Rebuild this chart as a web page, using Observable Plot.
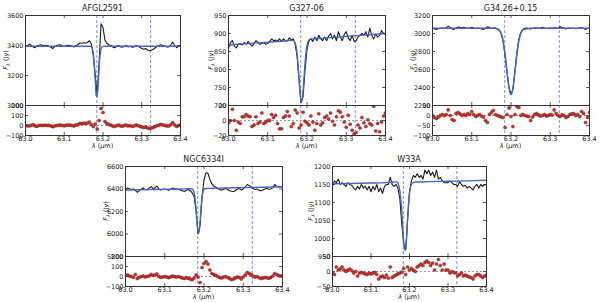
<!DOCTYPE html>
<html><head><meta charset="utf-8">
<script src="https://cdn.jsdelivr.net/npm/d3@7"></script>
<script src="https://cdn.jsdelivr.net/npm/@observablehq/plot@0.6"></script>
<style>
body{margin:0;background:#fff;}
#fig{position:relative;width:610px;height:302px;overflow:hidden;font-family:"DejaVu Sans",sans-serif;background:#fff;}
.lbl{position:absolute;white-space:nowrap;color:#222;line-height:1;}
.title{font-size:8px;transform:translate(-50%,-50%);}
.ylab{font-size:6.5px;transform:translate(-50%,-50%) rotate(-90deg);}
.xlab{font-size:6.5px;transform:translate(-50%,-50%);}
</style></head><body><div id="fig"></div><script>
// wavelength grid (µm)
const lam = [
63.000,63.005,63.010,63.015,63.020,63.025,63.030,63.035,63.040,63.045,
63.050,63.055,63.060,63.065,63.070,63.075,63.080,63.085,63.090,63.095,
63.100,63.105,63.110,63.115,63.120,63.125,63.130,63.135,63.140,63.145,
63.150,63.155,63.160,63.165,63.170,63.175,63.180,63.185,63.190,63.195,
63.200,63.205,63.210,63.215,63.220,63.225,63.230,63.235,63.240,63.245,
63.250,63.255,63.260,63.265,63.270,63.275,63.280,63.285,63.290,63.295,
63.300,63.305,63.310,63.315,63.320,63.325,63.330,63.335,63.340,63.345,
63.350,63.355,63.360,63.365,63.370,63.375,63.380,63.385,63.390,63.395,
63.400];
// wavelength grid of the fitted model
const lamFit = [63.0,63.05,63.1,63.15,63.16,63.165,63.17,63.175,63.18,63.1825,63.185,63.1875,63.19,63.1925,63.195,63.2,63.205,63.21,63.215,63.22,63.225,63.23,63.25,63.3,63.35,63.4];
const xTicks = [63.0,63.1,63.2,63.3,63.4];
const lineLam = [63.184, 63.323];

// AFGL2591
const afglObs = [3398,3395,3410,3400,3390,3385,3400,3402,3405,3398,
3402,3400,3395,3390,3380,3392,3400,3403,3405,3398,
3393,3398,3402,3400,3395,3390,3400,3405,3418,3415,
3418,3415,3420,3432,3410,3330,3200,3070,3290,3545,
3520,3435,3415,3405,3400,3390,3385,3395,3400,3392,
3388,3395,3400,3390,3395,3388,3390,3400,3395,3388,
3380,3375,3380,3370,3365,3370,3375,3385,3395,3400,
3405,3400,3395,3390,3390,3405,3422,3400,3385,3395,3400];
const afglFit = [3395,3395,3395,3395,3395,3395,3394,3349,3166,3065,3058,3144,3256,3338,3378,3394,3395,3395,3395,3395,3395,3395,3395,3395,3395,3395];
const afglRes = [0,-3,-5,2,10,-5,-8,0,2,0,
3,0,2,-3,-12,-5,0,3,5,0,
-3,2,5,3,0,-5,5,8,20,18,
22,20,25,35,10,-10,15,-35,50,170,
130,40,20,10,5,-5,-10,0,5,-3,
-8,0,5,-5,0,-8,-5,5,0,-8,
-15,-20,-15,-25,-30,-25,-20,-10,0,5,
10,5,0,-5,-5,10,30,5,-10,0,5];
const afglYTicks = [3000,3200,3400,3600];
const afglRTicks = [-100,0,100,200];

// G327-06
const g327Obs = [858,875,880,865,860,870,872,868,875,870,
878,870,865,872,880,875,870,872,875,870,
872,878,885,880,882,878,885,878,885,880,
880,888,882,885,870,835,765,708,725,800,
855,880,885,878,890,880,895,885,880,890,
880,893,900,885,895,880,905,890,880,898,
905,888,880,895,878,880,890,895,900,895,
905,890,915,895,885,898,890,895,908,900,898];
const g327Fit = [868,872,876,880,881,881,873,841,770,733,713,715,741,779,817,867,882,885,885,886,886,886,888,892,896,900];
const g327Res = [-3,0,15,0,-13,-2,-4,5,5,8,
6,5,-8,-6,5,-4,-2,10,-4,-2,
0,0,8,4,7,-4,-11,-11,4,6,
12,6,-8,-4,14,10,-10,-6,11,-1,
-3,-6,6,-2,-13,-4,9,-6,-3,4,
6,2,10,-1,-6,5,13,11,5,-2,
-9,7,-5,-13,-18,-16,-6,-10,4,-3,
-8,1,-4,-6,19,-14,-4,-15,-2,6,10];
const g327YTicks = [700,750,800,850,900,950];
const g327RTicks = [-20,0,20];

// G34.26+0.15
const g34Obs = [3060,3050,3045,3052,3058,3062,3058,3065,3080,3068,
3050,3045,3062,3072,3068,3062,3070,3060,3055,3062,
3070,3060,3055,3060,3058,3050,3045,3060,3075,3068,
3055,3060,3062,3050,3035,3000,2910,2750,2565,2400,
2322,2380,2580,2790,2935,3010,3045,3058,3060,3055,
3050,3058,3062,3060,3058,3062,3068,3060,3055,3058,
3062,3058,3065,3060,3055,3078,3065,3060,3050,3058,
3062,3055,3060,3052,3058,3065,3060,3060,3045,3055,3065];
const g34Fit = [3058,3058,3058,3058,3057,3054,3040,3002,2918,2851,2766,2671,2571,2473,2392,2320,2392,2571,2766,2918,3002,3040,3058,3058,3058,3058];
const g34Res = [0,-10,-15,-8,0,5,0,5,28,0,
-20,-25,10,15,8,0,5,0,10,5,
20,5,-5,0,5,-3,-8,-25,-35,5,
15,25,5,0,-3,-8,-10,-60,5,38,
-5,-55,5,45,40,0,5,0,-3,-5,
-25,-8,5,10,3,-2,0,5,-2,0,
5,2,28,10,0,-5,3,0,-10,-5,
5,8,10,0,5,-5,20,10,-35,-10,15];
const g34YTicks = [2200,2400,2600,2800,3000,3200];
const g34RTicks = [-100,-50,0,50];

// NGC6334I
const ngcObs = [6400,6410,6402,6395,6400,6388,6370,6385,6398,6410,
6395,6392,6405,6422,6405,6410,6425,6400,6392,6398,
6400,6395,6388,6398,6410,6402,6400,6395,6392,6385,
6378,6390,6395,6385,6365,6330,6200,6000,6080,6330,
6480,6545,6540,6485,6445,6425,6415,6405,6395,6390,
6398,6405,6395,6385,6380,6378,6385,6400,6405,6390,
6400,6420,6440,6430,6418,6405,6395,6400,6388,6385,
6392,6400,6405,6398,6400,6410,6440,6425,6420,6420,6418];
const ngcFit = [6390,6394,6397,6401,6402,6402,6400,6367,6206,6087,6007,6017,6110,6230,6324,6397,6405,6406,6406,6406,6407,6407,6409,6412,6416,6420];
const ngcRes = [10,15,5,0,-8,20,-20,-10,0,5,
-5,0,5,20,10,15,25,0,-8,-5,
0,-5,-12,-3,5,-2,-5,0,-8,-15,
-20,-12,-18,-25,-32,-15,15,-5,-60,90,
130,150,125,65,30,20,12,0,-10,-15,
-5,0,-10,-20,-30,-25,-15,-5,-10,-25,
-5,15,40,30,20,5,-5,0,-10,-20,
-15,-10,-12,-18,-10,5,30,20,10,5,5];
const ngcYTicks = [5800,6000,6200,6400,6600];
const ngcRTicks = [-100,0,100,200];

// W33A
const w33Obs = [1145,1160,1155,1165,1150,1155,1150,1145,1155,1150,
1148,1140,1135,1145,1138,1150,1140,1145,1135,1145,
1130,1145,1135,1150,1130,1140,1125,1145,1150,1150,
1170,1150,1145,1150,1140,1110,1040,985,968,1050,
1130,1160,1175,1170,1180,1170,1175,1165,1190,1180,
1190,1175,1185,1170,1190,1165,1170,1160,1155,1155,
1155,1160,1155,1150,1150,1145,1158,1150,1145,1148,
1140,1145,1140,1135,1145,1150,1140,1150,1145,1150,1148];
const w33Fit = [1152,1153,1154,1156,1157,1158,1154,1130,1075,1030,990,968,970,1000,1055,1125,1150,1156,1157,1157,1157,1157,1158,1159,1160,1162];
const w33Res = [-5,-10,15,5,8,15,5,0,5,8,
3,-5,0,-15,-5,-3,-5,-8,-10,-5,
-8,-5,-3,-10,-25,-18,-15,-20,-12,-22,
15,-20,-15,-12,-8,-5,-2,10,-10,15,
5,10,5,0,15,20,25,20,30,35,
30,20,28,5,25,40,20,5,25,5,
5,-5,0,-3,-5,-15,-10,-5,-15,-12,
-15,-18,-20,-25,-15,-10,-10,-15,-20,-15,-12];
const w33YTicks = [950,1000,1050,1100,1150,1200];
const w33RTicks = [-50,0,50];

// layout (pixels)
const row1 = {top:15, mid:105, bottom:135};
const row2 = {top:166, mid:256, bottom:286};
const panels = [
 {name:"AFGL2591", obs:afglObs, fit:afglFit, res:afglRes, yt:afglYTicks, rt:afglRTicks, left:25, right:180, row:row1, ylOff:18},
 {name:"G327-06", obs:g327Obs, fit:g327Fit, res:g327Res, yt:g327YTicks, rt:g327RTicks, left:228, right:385, row:row1, ylOff:16},
 {name:"G34.26+0.15", obs:g34Obs, fit:g34Fit, res:g34Res, yt:g34YTicks, rt:g34RTicks, left:432, right:589, row:row1, ylOff:18},
 {name:"NGC6334I", obs:ngcObs, fit:ngcFit, res:ngcRes, yt:ngcYTicks, rt:ngcRTicks, left:125, right:282, row:row2, ylOff:18},
 {name:"W33A", obs:w33Obs, fit:w33Fit, res:w33Res, yt:w33YTicks, rt:w33RTicks, left:332, right:486, row:row2, ylOff:20},
];

const ink = "#333";
const fig = document.getElementById("fig");
const ML = 32, MR = 4, MT = 2, MB = 2;
const fmt = d => d < 0 ? "\u2212" + (-d) : String(d);
const svgStyle = {background:"none", overflow:"visible", maxWidth:"none", fontFamily:"DejaVu Sans, sans-serif", fontSize:"6.5px", color:"#222"};

function place(svg, x, y, w, h) {
  const div = document.createElement("div");
  div.style.cssText = `position:absolute;left:${x}px;top:${y}px;width:${w}px;height:${h}px;`;
  div.appendChild(svg);
  fig.appendChild(div);
}
function label(cls, html, x, y) {
  const d = document.createElement("div");
  d.className = "lbl " + cls;
  d.style.left = x + "px"; d.style.top = y + "px";
  d.innerHTML = html;
  fig.appendChild(d);
}
function inTicks(xt, yt, W, H, len) {
  const o = {stroke: ink, strokeWidth: 0.8};
  return [
    Plot.ruleX(xt, {...o, insetTop: H - len}),
    Plot.ruleX(xt, {...o, insetBottom: H - len}),
    Plot.ruleY(yt, {...o, insetRight: W - len}),
    Plot.ruleY(yt, {...o, insetLeft: W - len})
  ];
}

for (const p of panels) {
  const W = p.right - p.left;
  const H1 = p.row.mid - p.row.top;
  const H2 = p.row.bottom - p.row.mid;
  const obsData = lam.map((l, i) => ({l, v: p.obs[i]}));
  const fitData = lamFit.map((l, i) => ({l, v: p.fit[i]}));
  const resData = lam.map((l, i) => ({l, v: p.res[i]}));
  const yDom = [p.yt[0], p.yt[p.yt.length - 1]];
  const rDom = [p.rt[0], p.rt[p.rt.length - 1]];

  const main = Plot.plot({
    width: W + ML + MR, height: H1 + MT + MB,
    marginLeft: ML, marginRight: MR, marginTop: MT, marginBottom: MB,
    style: svgStyle,
    x: {domain: [63.0, 63.4], axis: null},
    y: {domain: yDom},
    marks: [
      Plot.ruleX(lineLam, {stroke: "#7494e0", strokeDasharray: "3,2", strokeWidth: 1}),
      Plot.line(obsData, {x: "l", y: "v", stroke: "#1a1a1a", strokeWidth: 1.1, clip: true}),
      Plot.line(fitData, {x: "l", y: "v", stroke: "#4466bf", strokeWidth: 1.4, curve: "monotone-x", clip: true}),
      ...inTicks(xTicks, p.yt, W, H1, 3),
      Plot.axisY({ticks: p.yt, tickSize: 0, tickPadding: 2, fontSize: 6.5, tickFormat: fmt, label: null}),
      Plot.frame({stroke: ink, strokeWidth: 1})
    ]
  });
  place(main, p.left - ML, p.row.top - MT, W + ML + MR, H1 + MT + MB);

  const resid = Plot.plot({
    width: W + ML + MR, height: H2 + MT + MB,
    marginLeft: ML, marginRight: MR, marginTop: MT, marginBottom: MB,
    style: svgStyle,
    x: {domain: [63.0, 63.4]},
    y: {domain: rDom},
    marks: [
      Plot.ruleX(lineLam, {stroke: "#7494e0", strokeDasharray: "3,2", strokeWidth: 1}),
      Plot.ruleY([0], {stroke: "#808080", strokeDasharray: "2,2", strokeWidth: 0.8}),
      Plot.dot(resData, {x: "l", y: "v", r: 1.6, fill: "#c8322c", stroke: "#6e1512", strokeWidth: 0.4, clip: true}),
      ...inTicks(xTicks, p.rt, W, H2, 3),
      Plot.axisY({ticks: p.rt, tickSize: 0, tickPadding: 2, fontSize: 6.5, tickFormat: fmt, label: null}),
      Plot.axisX({ticks: xTicks, tickSize: 0, tickPadding: 1, fontSize: 6.5, tickFormat: d3.format(".1f"), label: null}),
      Plot.frame({stroke: ink, strokeWidth: 1})
    ]
  });
  place(resid, p.left - ML, p.row.mid - MT, W + ML + MR, H2 + MT + MB);

  const cx = (p.left + p.right) / 2;
  label("title", p.name, cx, p.row.top - 6);
  label("ylab", "<i>F</i><sub style='font-size:0.75em'><i>λ</i></sub> (Jy)", p.left - p.ylOff, (p.row.top + p.row.mid) / 2);
  label("xlab", "<i>λ</i> (<i>μ</i>m)", cx, p.row.bottom + 11);
}
</script></body></html>
